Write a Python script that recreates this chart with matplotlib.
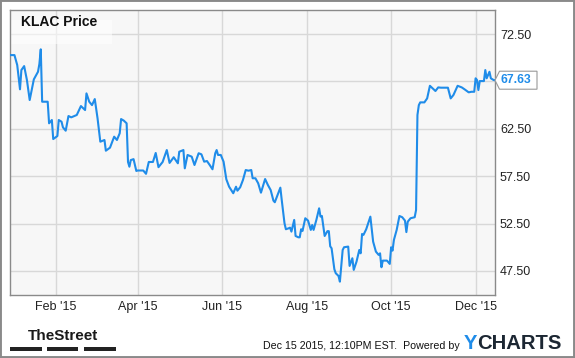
import matplotlib
matplotlib.use("Agg")
import matplotlib.pyplot as plt
import matplotlib.dates as mdates
from matplotlib.patches import Rectangle, Polygon
import pandas as pd

title = "KLAC Price"
dates = [
    "2014-12-30", "2015-01-02", "2015-01-04", "2015-01-06", "2015-01-07", "2015-01-09",
    "2015-01-11", "2015-01-13", "2015-01-16", "2015-01-19", "2015-01-20", "2015-01-21",
    "2015-01-22", "2015-01-26", "2015-01-27", "2015-01-29", "2015-01-30", "2015-02-02",
    "2015-02-03", "2015-02-05", "2015-02-06", "2015-02-08", "2015-02-10", "2015-02-12",
    "2015-02-16", "2015-02-19", "2015-02-22", "2015-02-23", "2015-02-25", "2015-02-27",
    "2015-03-01", "2015-03-03", "2015-03-05", "2015-03-08", "2015-03-09", "2015-03-12",
    "2015-03-15", "2015-03-17", "2015-03-19", "2015-03-20", "2015-03-22", "2015-03-24",
    "2015-03-25", "2015-03-26", "2015-03-27", "2015-03-29", "2015-03-31", "2015-04-01",
    "2015-04-05", "2015-04-07", "2015-04-09", "2015-04-12", "2015-04-14", "2015-04-16",
    "2015-04-19", "2015-04-22", "2015-04-24", "2015-04-27", "2015-04-30", "2015-05-01",
    "2015-05-04", "2015-05-05", "2015-05-07", "2015-05-10", "2015-05-12", "2015-05-15",
    "2015-05-17", "2015-05-19", "2015-05-21", "2015-05-23", "2015-05-25", "2015-05-27",
    "2015-05-28", "2015-05-29", "2015-05-31", "2015-06-02", "2015-06-04", "2015-06-06",
    "2015-06-09", "2015-06-11", "2015-06-12", "2015-06-14", "2015-06-16", "2015-06-18",
    "2015-06-20", "2015-06-22", "2015-06-23", "2015-06-25", "2015-06-27", "2015-06-29",
    "2015-07-02", "2015-07-04", "2015-07-06", "2015-07-08", "2015-07-09", "2015-07-11",
    "2015-07-13", "2015-07-14", "2015-07-16", "2015-07-17", "2015-07-19", "2015-07-20",
    "2015-07-21", "2015-07-23", "2015-07-24", "2015-07-26", "2015-07-27", "2015-07-28",
    "2015-07-29", "2015-07-31", "2015-08-02", "2015-08-04", "2015-08-05", "2015-08-06",
    "2015-08-08", "2015-08-10", "2015-08-11", "2015-08-12", "2015-08-14", "2015-08-16",
    "2015-08-17", "2015-08-18", "2015-08-19", "2015-08-21", "2015-08-22", "2015-08-24",
    "2015-08-25", "2015-08-27", "2015-08-28", "2015-08-31", "2015-09-01", "2015-09-03",
    "2015-09-04", "2015-09-06", "2015-09-08", "2015-09-09", "2015-09-10", "2015-09-11",
    "2015-09-13", "2015-09-14", "2015-09-16", "2015-09-18", "2015-09-20", "2015-09-22",
    "2015-09-23", "2015-09-24", "2015-09-25", "2015-09-28", "2015-09-30", "2015-10-01",
    "2015-10-02", "2015-10-03", "2015-10-05", "2015-10-07", "2015-10-09", "2015-10-11",
    "2015-10-12", "2015-10-13", "2015-10-15", "2015-10-18", "2015-10-19", "2015-10-20",
    "2015-10-21", "2015-10-22", "2015-10-25", "2015-10-27", "2015-10-29", "2015-11-02",
    "2015-11-04", "2015-11-06", "2015-11-09", "2015-11-11", "2015-11-13", "2015-11-15",
    "2015-11-18", "2015-11-21", "2015-11-23", "2015-11-26", "2015-11-28", "2015-11-30",
    "2015-12-01", "2015-12-02", "2015-12-03", "2015-12-04", "2015-12-07", "2015-12-08",
    "2015-12-09", "2015-12-11", "2015-12-12", "2015-12-14", "2015-12-15",
]
prices = [
    70.28, 70.28, 69.23, 66.67, 68.70, 69.12,
    67.65, 65.54, 67.72, 68.52, 69.34, 70.89,
    65.36, 65.36, 63.08, 63.43, 61.42, 61.74,
    63.43, 63.25, 62.66, 62.30, 63.85, 63.71,
    63.96, 64.90, 64.48, 66.24, 65.36, 65.00,
    65.64, 63.61, 61.14, 61.32, 60.19, 60.51,
    61.67, 61.32, 62.03, 63.53, 63.36, 63.08,
    59.00, 58.50, 59.20, 59.30, 58.05, 58.10,
    58.10, 57.75, 59.00, 59.00, 59.95, 58.45,
    59.00, 60.26, 58.90, 59.50, 58.86, 60.08,
    60.26, 58.33, 59.74, 59.56, 58.68, 59.92,
    59.81, 59.03, 59.10, 58.68, 58.23, 59.92,
    60.26, 59.74, 59.74, 59.03, 57.17, 56.39,
    55.70, 56.39, 55.97, 56.33, 57.10, 58.15,
    58.08, 58.15, 57.28, 57.28, 56.75, 55.76,
    57.20, 56.57, 56.04, 54.92, 54.75, 55.52,
    56.29, 54.99, 52.53, 51.90, 52.00, 52.07,
    51.65, 52.88, 51.19, 51.05, 51.05, 51.90,
    51.72, 53.06, 52.81, 51.83, 52.35, 51.83,
    52.88, 54.11, 53.23, 53.30, 51.19, 51.70,
    51.70, 50.10, 49.89, 47.68, 47.26, 46.97,
    46.37, 49.71, 50.00, 50.07, 48.03, 48.84,
    47.61, 48.48, 49.71, 49.36, 51.40, 51.30,
    51.90, 52.35, 53.23, 50.59, 49.54, 49.19,
    49.36, 47.89, 48.59, 48.59, 48.24, 50.00,
    49.64, 50.77, 51.83, 53.30, 53.17, 52.81,
    51.60, 52.70, 53.06, 53.17, 53.93, 63.96,
    65.00, 65.29, 65.29, 65.71, 67.04, 66.49,
    66.87, 66.84, 66.84, 66.84, 65.71, 66.07,
    67.04, 66.87, 66.67, 66.35, 66.41, 66.41,
    67.83, 67.65, 66.59, 67.54, 67.54, 68.70,
    67.83, 68.52, 67.83, 67.65, 67.63,
]
y_ticks = [47.5, 52.5, 57.5, 62.5, 67.5, 72.5]
x_ticks = ["2015-02-01", "2015-04-01", "2015-06-01", "2015-08-01", "2015-10-01", "2015-12-01"]
x_tick_labels = ["Feb '15", "Apr '15", "Jun '15", "Aug '15", "Oct '15", "Dec '15"]
timestamp_text = "Dec 15 2015, 12:10PM EST.  Powered by"

W, H, DPI = 575, 358, 100
LINE = "#1f8ce9"
FONT = ["Liberation Sans", "DejaVu Sans"]
plt.rcParams["font.family"] = FONT

fig = plt.figure(figsize=(W / DPI, H / DPI), dpi=DPI)
fig.patch.set_facecolor("white")

L, R, T, B = 10.3, 495, 10, 295
ax = fig.add_axes([L / W, (H - B) / H, (R - L) / W, (B - T) / H])
ax.set_facecolor("#f7f7f7")

x = pd.to_datetime(dates)
ax.plot(x, prices, color=LINE, lw=1.5, zorder=3, solid_joinstyle="round")

ax.set_xlim(pd.Timestamp("2014-12-30"), pd.Timestamp("2015-12-15"))
ax.set_ylim(44.96, 75.04)

# the last-value tag covers the tick label closest to it
last = prices[-1]
ax.set_yticks(y_ticks)
ax.set_yticklabels(["" if abs(v - last) < 1.5 else f"{v:.2f}" for v in y_ticks])
ax.yaxis.tick_right()
ax.set_xticks(pd.to_datetime(x_ticks))
ax.set_xticklabels(x_tick_labels)
ax.tick_params(axis="both", length=0, labelsize=9, colors="#222222")
ax.tick_params(axis="y", pad=3.6)
ax.tick_params(axis="x", pad=4)
ax.grid(True, color="#d8d8d8", lw=1.0, zorder=1)
ax.set_axisbelow(True)
for s in ax.spines.values():
    s.set_color("#8a8a8a")
    s.set_linewidth(1.0)

# title box
ax.add_patch(Rectangle((0, (B - 33.5 - T) / (B - T)), (112 - L) / (R - L), (33.5 - T) / (B - T),
                       transform=ax.transAxes, facecolor="white", alpha=0.55,
                       edgecolor="none", zorder=2))
ax.text(11 / (R - L), 1 - 12.5 / (B - T), title, transform=ax.transAxes,
        fontsize=10, fontweight="bold", color="#111111", va="center", ha="left", zorder=4)

# last value tag
fig.canvas.draw()
tip = ax.transData.transform((mdates.date2num(x[-1]), last))
tx, ty = R, tip[1]
verts = [(tx, ty), (tx + 4.5, ty + 9), (tx + 42, ty + 9), (tx + 42, ty - 9), (tx + 4.5, ty - 9)]
verts_in = [(vx / DPI, vy / DPI) for vx, vy in verts]
fig.patches.append(Polygon(verts_in, closed=True, transform=fig.dpi_scale_trans,
                           facecolor="white", edgecolor="#9a9a9a", lw=0.8))
fig.text((tx + 5.5) / W, ty / H, f"{last:.2f}", color=LINE, fontsize=8.7,
         fontweight="bold", va="center", ha="left")

# footer
fig.text(62.7 / W, (H - 335.5) / H, "TheStreet", family=["Liberation Sans Narrow", "Liberation Sans"],
         fontsize=11, fontweight="bold", color="#1a1a1a", ha="center", va="center")
for x0, x1 in [(10.3, 42.2), (47, 78), (83.6, 115.5)]:
    fig.patches.append(Rectangle((x0 / W, (H - 350.8) / H), (x1 - x0) / W, 3.8 / H,
                                 transform=fig.transFigure, facecolor="#222222", edgecolor="none"))
fig.text(459.5 / W, (H - 349) / H, timestamp_text, fontsize=7.7, color="#111111",
         ha="right", va="baseline")
fig.text(463.5 / W, (H - 349) / H, "Y", fontsize=14.6, fontweight="bold", color=LINE,
         ha="left", va="baseline")
fig.text(477.5 / W, (H - 349) / H, "CHARTS", fontsize=14.6, fontweight="bold", color="#1c2733",
         ha="left", va="baseline")

# outer frame
fig.patches.append(Rectangle((0, 0), 1, 1, transform=fig.transFigure, fill=False,
                             edgecolor="#8a8a8a", lw=2.8))

fig.savefig("out.png", dpi=DPI, facecolor="white")
